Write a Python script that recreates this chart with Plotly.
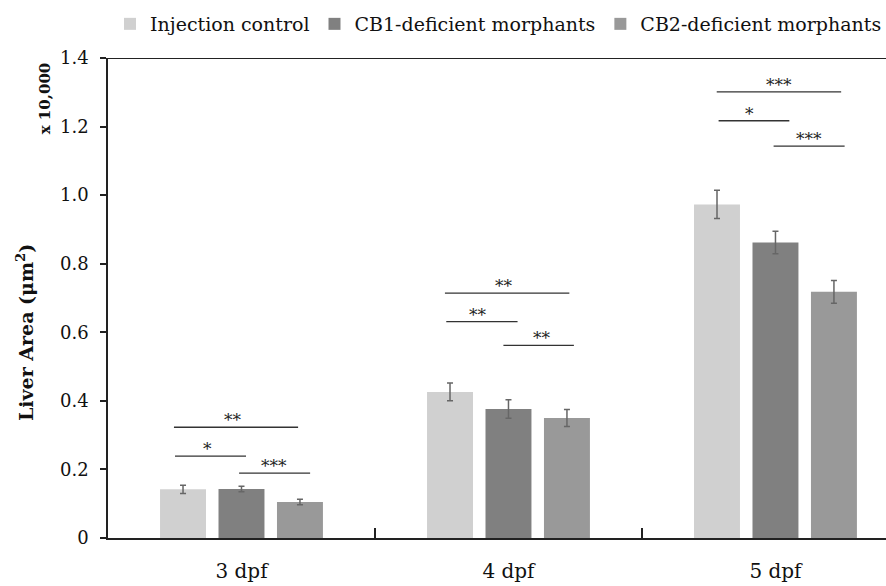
import plotly.graph_objects as go

categories = ["3 dpf", "4 dpf", "5 dpf"]
series_names = ["Injection control", "CB1-deficient morphants", "CB2-deficient morphants"]
injection = [0.142, 0.426, 0.973]
injection_err = [0.012, 0.026, 0.041]
cb1 = [0.143, 0.376, 0.862]
cb1_err = [0.008, 0.027, 0.033]
cb2 = [0.105, 0.350, 0.718]
cb2_err = [0.008, 0.025, 0.033]
colors = ["#d0d0d0", "#808080", "#999999"]

ytick_vals = [0, 0.2, 0.4, 0.6, 0.8, 1.0, 1.2, 1.4]
ytick_text = ["0", "0.2", "0.4", "0.6", "0.8", "1.0", "1.2", "1.4"]

# significance brackets: (x0, x1, y, label, label_x) in category-axis units
brackets = [
    (-0.253, 0.212, 0.323, "**", -0.032),
    (-0.249, 0.017, 0.239, "*", -0.129),
    (-0.009, 0.257, 0.189, "***", 0.122),
    (0.762, 1.228, 0.714, "**", 0.983),
    (0.767, 1.034, 0.631, "**", 0.886),
    (0.981, 1.245, 0.562, "**", 1.124),
    (1.780, 2.246, 1.301, "***", 2.014),
    (1.787, 2.052, 1.217, "*", 1.904),
    (1.993, 2.259, 1.143, "***", 2.124),
]

FONT = "DejaVu Serif"
xpos = list(range(len(categories)))

fig = go.Figure()
for name, vals, errs, col in zip(series_names, [injection, cb1, cb2],
                                 [injection_err, cb1_err, cb2_err], colors):
    fig.add_trace(go.Bar(
        x=xpos, y=vals, name=name, marker=dict(color=col, line=dict(width=0)),
        error_y=dict(type="data", array=errs, visible=True, color="#666666",
                     thickness=1.5, width=3),
    ))

for x0, x1, y, lab, lx in brackets:
    fig.add_shape(type="line", xref="x", yref="y", x0=x0, x1=x1, y0=y, y1=y,
                  line=dict(color="#333333", width=1.3))
    fig.add_annotation(x=lx, y=y, xref="x", yref="y", text=lab, showarrow=False,
                       yshift=7, font=dict(family=FONT, size=17, color="#222222"))

# top border line
fig.add_shape(type="line", xref="paper", yref="y", x0=0, x1=1, y0=1.4, y1=1.4,
              line=dict(color="#222222", width=2))

fig.add_annotation(xref="paper", yref="paper", x=-83/778, y=0.427, text="Liver Area (μm<sup>2</sup>)",
                   textangle=-90, showarrow=False, xanchor="center", yanchor="middle",
                   font=dict(family=FONT, size=19, color="#111111", weight="bold"))
fig.add_annotation(xref="paper", yref="paper", x=-63/778, y=0.916, text="x 10,000",
                   textangle=-90, showarrow=False, xanchor="center", yanchor="middle",
                   font=dict(family=FONT, size=15, color="#111111", weight="bold"))

fig.update_layout(
    width=886, height=586,
    margin=dict(l=108, r=0, t=58, b=48, autoexpand=False),
    paper_bgcolor="white", plot_bgcolor="white",
    barmode="group", bargap=0.343, bargroupgap=0.214,
    font=dict(family=FONT, color="#222222"),
    legend=dict(orientation="h", x=2 / 778, xanchor="left",
                y=(538 - 24) / 480, yanchor="middle",
                font=dict(family=FONT, size=19, color="#111111"), bgcolor="rgba(0,0,0,0)"),
    showlegend=True,
)
fig.update_xaxes(
    range=[-0.5, 2.414], tickvals=xpos, ticktext=categories, ticks="", showgrid=False,
    showline=True, linecolor="#222222", linewidth=2, zeroline=False,
    tickfont=dict(family=FONT, size=20, color="#111111"), ticklabelstandoff=14,
    minor=dict(tickvals=[0.5, 1.5], ticks="inside", ticklen=10, tickcolor="#222222", tickwidth=1.5),
)
fig.update_yaxes(
    range=[0, 1.4], tickvals=ytick_vals, ticktext=ytick_text, ticks="outside", ticklen=6,
    tickcolor="#222222", tickwidth=1.5, showgrid=False, showline=True, linecolor="#222222",
    linewidth=1.5, zeroline=False, tickfont=dict(family=FONT, size=18, color="#111111"),
    ticklabelstandoff=8,
)

fig.write_html("out.html", config={"displayModeBar": False},
               post_script="document.body.style.margin='0';")
